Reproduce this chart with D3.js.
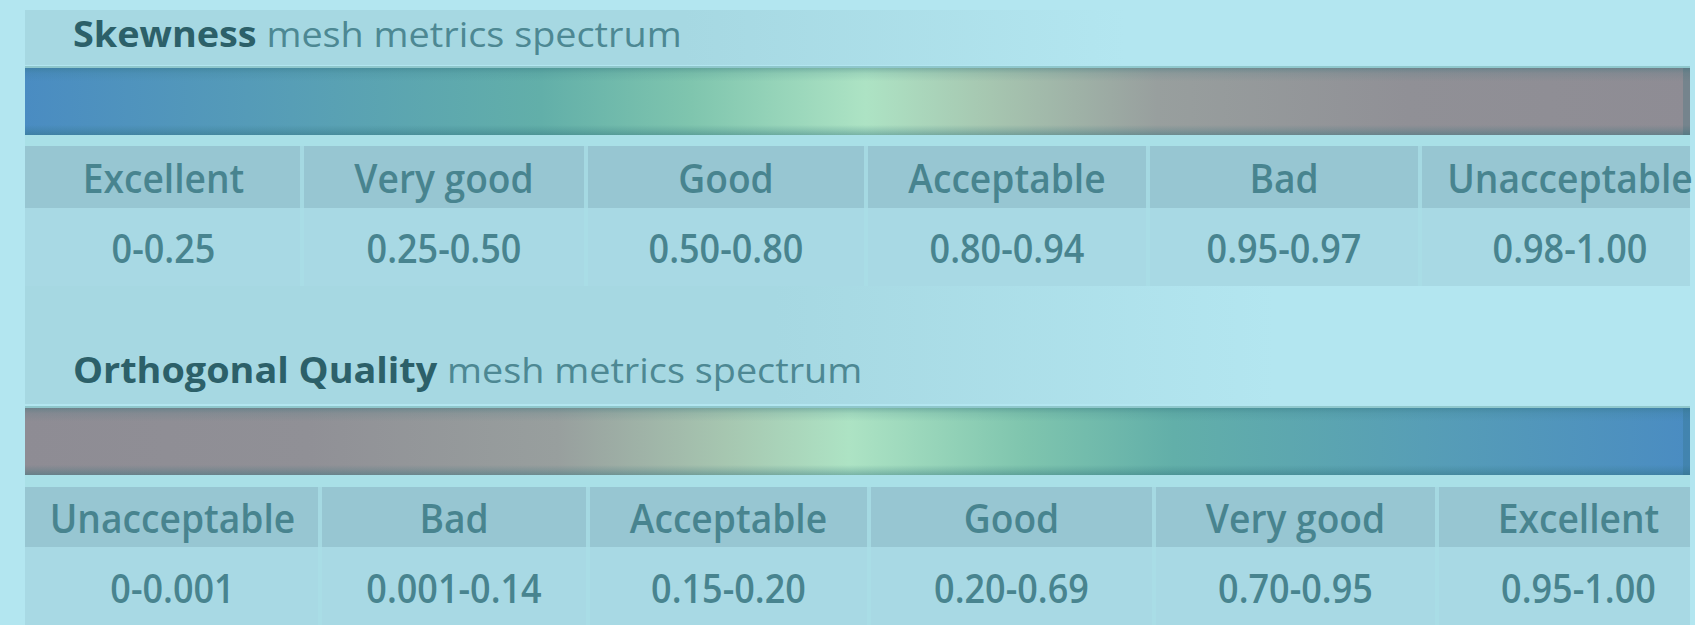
<!DOCTYPE html>
<html>
<head>
<meta charset="utf-8">
<script src="https://cdn.jsdelivr.net/npm/d3@7/dist/d3.min.js"></script>
<style>
  html, body { margin: 0; padding: 0; background: #b3e6f0; }
  svg { display: block; }
  text { font-family: "Open Sans", "Noto Sans", sans-serif; }
</style>
</head>
<body>
<svg id="chart"></svg>
<script>
// data
const skewTitle = ['Skewness', ' mesh metrics spectrum'];
const skewLabels = ['Excellent', 'Very good', 'Good', 'Acceptable', 'Bad', 'Unacceptable'];
const skewRanges = ['0-0.25', '0.25-0.50', '0.50-0.80', '0.80-0.94', '0.95-0.97', '0.98-1.00'];

const orthoTitle = ['Orthogonal Quality', ' mesh metrics spectrum'];
const orthoLabels = ['Unacceptable', 'Bad', 'Acceptable', 'Good', 'Very good', 'Excellent'];
const orthoRanges = ['0-0.001', '0.001-0.14', '0.15-0.20', '0.20-0.69', '0.70-0.95', '0.95-1.00'];

// spectrum colour stops, blue (best skewness) -> mint -> grey (worst)
const spectrumOffsets = [0, 0.16, 0.31, 0.40, 0.505, 0.58, 0.68, 0.83, 1];
const spectrumColors = ['#4a8cc2', '#579eb6', '#62afa9', '#7fc5ae', '#ade3c4', '#a6c6b0', '#989f9e', '#909096', '#8e8c94'];

// column edges of each table (pixels)
const skewEdges = [25, 302, 586, 866, 1148, 1420, 1720];
const orthoEdges = [25, 320, 588, 869, 1154, 1437, 1720];

var config = {
  width: 1695,
  height: 625,
  left: 25,
  right: 1690,
  titleScale: 1.08,
  labelScale: 0.93,
  valueScale: 0.9,
  panel: '#a6d8e2',
  header: '#97c6d2',
  cell: '#a8d9e4',
  text: '#48848f',
  titleBold: '#2c6069',
  titleText: '#4d8893'
};

const svg = d3.select('#chart')
  .attr('width', config.width)
  .attr('height', config.height);

const defs = svg.append('defs');

function addSpectrum(id, reversed) {
  const g = defs.append('linearGradient')
    .attr('id', id)
    .attr('x1', '0%').attr('x2', '100%')
    .attr('y1', '0%').attr('y2', '0%');
  const stops = spectrumOffsets.map((o, i) => ({ o: o, c: spectrumColors[i] }));
  const list = reversed
    ? stops.map(s => ({ o: 1 - s.o, c: s.c })).reverse()
    : stops;
  g.selectAll('stop').data(list).enter().append('stop')
    .attr('offset', d => d.o)
    .attr('stop-color', d => d.c);
}
addSpectrum('skewGrad', false);
addSpectrum('orthoGrad', true);

// shading on top and bottom of the bars
const shade = defs.append('linearGradient')
  .attr('id', 'barShade')
  .attr('x1', '0%').attr('x2', '0%')
  .attr('y1', '0%').attr('y2', '100%');
[[0, 0.35], [0.08, 0.12], [0.2, 0], [0.85, 0], [0.93, 0.2], [1, 0.4]]
  .forEach(s => shade.append('stop').attr('offset', s[0]).attr('stop-color', '#2c6d78').attr('stop-opacity', s[1]));

const fade = defs.append('linearGradient')
  .attr('id', 'panelFade')
  .attr('x1', '0%').attr('x2', '100%')
  .attr('y1', '0%').attr('y2', '0%');
fade.append('stop').attr('offset', 0).attr('stop-color', config.panel).attr('stop-opacity', 1);
fade.append('stop').attr('offset', 0.6).attr('stop-color', config.panel).attr('stop-opacity', 1);
fade.append('stop').attr('offset', 1).attr('stop-color', config.panel).attr('stop-opacity', 0);

function place(sel, cx, y, s) {
  return sel.attr('transform', 'translate(' + cx + ',' + y + ') scale(' + s + ',1)');
}

function drawSection(opts) {
  const g = svg.append('g');
  const x = d3.scaleOrdinal().domain(d3.range(6)).range(opts.edges.slice(0, 6));
  const w = i => opts.edges[i + 1] - opts.edges[i];
  const barW = config.right - config.left;

  // title band
  g.append('rect')
    .attr('x', config.left).attr('y', opts.titleTop)
    .attr('width', opts.fadeWidth).attr('height', opts.titleBottom - opts.titleTop)
    .attr('fill', 'url(#panelFade)');

  const title = g.append('text')
    .attr('font-size', 35)
    .attr('text-anchor', 'start');
  place(title, 73, opts.titleBase, config.titleScale);
  title.append('tspan').attr('font-weight', 700).attr('fill', config.titleBold).text(opts.title[0]);
  title.append('tspan').attr('fill', config.titleText).text(opts.title[1]);

  // spectrum bar
  g.append('rect')
    .attr('x', config.left).attr('y', opts.barTop - 2)
    .attr('width', barW).attr('height', opts.barBottom - opts.barTop + 4)
    .attr('fill', '#8fc7cc');
  g.append('rect')
    .attr('x', config.left).attr('y', opts.barTop)
    .attr('width', barW).attr('height', opts.barBottom - opts.barTop)
    .attr('fill', 'url(#' + opts.gradient + ')');
  g.append('rect')
    .attr('x', config.left).attr('y', opts.barTop)
    .attr('width', barW).attr('height', opts.barBottom - opts.barTop)
    .attr('fill', 'url(#barShade)');
  g.append('rect')
    .attr('x', config.right - 7).attr('y', opts.barTop)
    .attr('width', 7).attr('height', opts.barBottom - opts.barTop)
    .attr('fill', '#2c6d78').attr('opacity', 0.25);

  // light strip under the bar
  g.append('rect')
    .attr('x', config.left).attr('y', opts.barBottom)
    .attr('width', barW).attr('height', opts.headTop - opts.barBottom)
    .attr('fill', '#a9e0e7');

  // header and value cells
  const cells = g.selectAll('.cell')
    .data(opts.labels.map((l, i) => ({ label: l, range: opts.ranges[i], i: i })))
    .enter().append('g')
    .attr('class', 'cell');

  cells.append('rect')
    .attr('x', d => x(d.i))
    .attr('y', opts.headTop)
    .attr('width', d => Math.min(w(d.i), config.right - x(d.i)))
    .attr('height', opts.valTop - opts.headTop)
    .attr('fill', config.header);

  cells.append('rect')
    .attr('x', d => x(d.i))
    .attr('y', opts.valTop)
    .attr('width', d => Math.min(w(d.i), config.right - x(d.i)))
    .attr('height', opts.valBottom - opts.valTop)
    .attr('fill', config.cell);

  // column separators
  cells.filter(d => d.i > 0).append('rect')
    .attr('x', d => x(d.i) - 2)
    .attr('y', opts.headTop)
    .attr('width', 4)
    .attr('height', opts.valBottom - opts.headTop)
    .attr('fill', '#a9dde6')
    .attr('opacity', 0.8);

  cells.append('text')
    .attr('font-size', 40)
    .attr('font-weight', 600)
    .attr('text-anchor', 'middle')
    .attr('fill', config.text)
    .each(function (d) { place(d3.select(this), x(d.i) + w(d.i) / 2, opts.headBase, config.labelScale); })
    .text(d => d.label);

  cells.append('text')
    .attr('font-size', 40)
    .attr('font-weight', 600)
    .attr('text-anchor', 'middle')
    .attr('fill', config.text)
    .each(function (d) { place(d3.select(this), x(d.i) + w(d.i) / 2, opts.valBase, config.valueScale); })
    .text(d => d.range);
}

// panel strip between the two tables
svg.append('rect')
  .attr('x', config.left).attr('y', 286)
  .attr('width', 1250).attr('height', 41)
  .attr('fill', 'url(#panelFade)');

drawSection({
  title: skewTitle, labels: skewLabels, ranges: skewRanges, gradient: 'skewGrad', edges: skewEdges,
  titleTop: 10, titleBottom: 65, titleBase: 47, fadeWidth: 1100,
  barTop: 68, barBottom: 135,
  headTop: 146, valTop: 208, valBottom: 286,
  headBase: 193, valBase: 263
});

drawSection({
  title: orthoTitle, labels: orthoLabels, ranges: orthoRanges, gradient: 'orthoGrad', edges: orthoEdges,
  titleTop: 327, titleBottom: 404, titleBase: 383, fadeWidth: 1250,
  barTop: 408, barBottom: 475,
  headTop: 487, valTop: 547, valBottom: 625,
  headBase: 533, valBase: 603
});
</script>
</body>
</html>
